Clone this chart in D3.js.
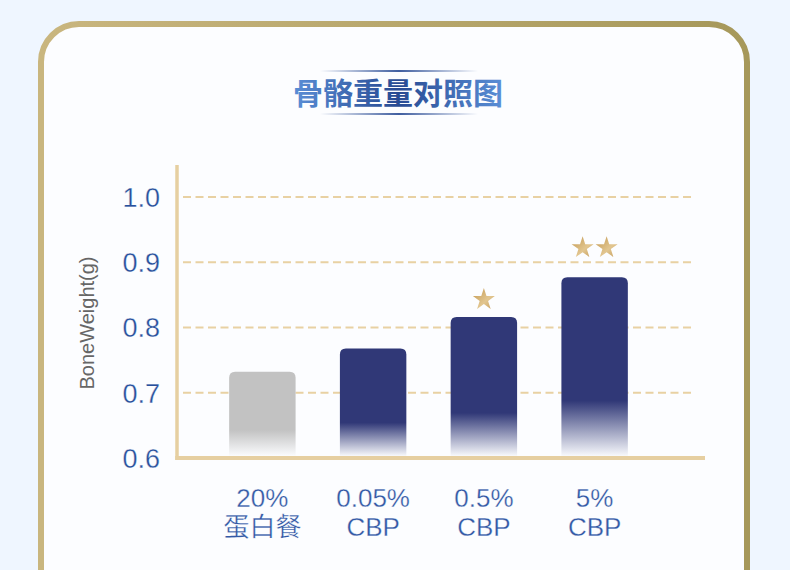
<!DOCTYPE html>
<html>
<head>
<meta charset="utf-8">
<script src="https://cdn.jsdelivr.net/npm/d3@7/dist/d3.min.js"></script>
<style>
  html, body { margin: 0; padding: 0; background: #eff6ff; }
  svg { display: block; }
</style>
</head>
<body>
<svg id="chart" width="790" height="570"></svg>
<script>
// ---- data ----
const title = "骨骼重量对照图";
const categoriesLine1 = ["20%", "0.05%", "0.5%", "5%"];
const categoriesLine2 = ["蛋白餐", "CBP", "CBP", "CBP"];
const values = [0.732, 0.768, 0.816, 0.877];
const starCounts = [0, 0, 1, 2];
const yTicks = [0.6, 0.7, 0.8, 0.9, 1.0];
const yTitle = "BoneWeight(g)";

// ---- layout ----
const svg = d3.select("#chart");
const W = 790, H = 570;
const plotLeft = 177, plotRight = 705;
const cardBg = "#fcfdff";

const x = d3.scaleBand()
  .domain(d3.range(values.length))
  .range([207, 650])
  .paddingInner(0.4)
  .paddingOuter(0.2);
const y = d3.scaleLinear().domain([0.6, 1.0]).range([458, 197]);

const defs = svg.append("defs");
const border = defs.append("linearGradient").attr("id", "border").attr("x1", "0").attr("x2", "1").attr("y1", "0").attr("y2", "0");
border.append("stop").attr("offset", "0").attr("stop-color", "#c9b67f");
border.append("stop").attr("offset", "1").attr("stop-color", "#a6985a");

const tg = defs.append("linearGradient").attr("id", "titleGrad").attr("x1", "0").attr("x2", "1").attr("y1", "0").attr("y2", "0");
tg.append("stop").attr("offset", "0").attr("stop-color", "#5a8ed6");
tg.append("stop").attr("offset", "0.5").attr("stop-color", "#274a93");
tg.append("stop").attr("offset", "1").attr("stop-color", "#5a8ed6");

const lg = defs.append("linearGradient").attr("id", "lineGrad").attr("x1", "0").attr("x2", "1").attr("y1", "0").attr("y2", "0");
lg.append("stop").attr("offset", "0").attr("stop-color", "#2a4c95").attr("stop-opacity", 0);
lg.append("stop").attr("offset", "0.5").attr("stop-color", "#2a4c95").attr("stop-opacity", 1);
lg.append("stop").attr("offset", "1").attr("stop-color", "#2a4c95").attr("stop-opacity", 0);

function barGrad(id, color) {
  const g = defs.append("linearGradient").attr("id", id).attr("x1", "0").attr("x2", "0").attr("y1", "0").attr("y2", "1");
  g.append("stop").attr("offset", "0").attr("stop-color", color);
  g.append("stop").attr("offset", "0.69").attr("stop-color", color);
  g.append("stop").attr("offset", "1").attr("stop-color", color).attr("stop-opacity", 0.02);
}
barGrad("barGray", "#c2c2c2");
barGrad("barNavy", "#303877");

const sg = defs.append("linearGradient").attr("id", "starGrad").attr("x1", "0").attr("x2", "1").attr("y1", "0").attr("y2", "1");
sg.append("stop").attr("offset", "0").attr("stop-color", "#c0954d");
sg.append("stop").attr("offset", "0.6").attr("stop-color", "#e2c690");
sg.append("stop").attr("offset", "1").attr("stop-color", "#c59d5b");

// ---- card ----
svg.append("rect").attr("width", W).attr("height", H).attr("fill", "#eff6ff");
svg.append("rect")
  .attr("x", 41).attr("y", 24).attr("width", 706).attr("height", 640)
  .attr("rx", 38).attr("ry", 38)
  .attr("fill", cardBg)
  .attr("stroke", "url(#border)").attr("stroke-width", 6);

// ---- title ----
svg.append("text")
  .attr("x", 398).attr("y", 103.5)
  .attr("text-anchor", "middle")
  .attr("font-family", "'Noto Sans CJK SC', sans-serif")
  .attr("font-weight", 700)
  .attr("font-size", 30)
  .attr("fill", "url(#titleGrad)")
  .text(title);
[71, 114].forEach(yy => {
  svg.append("rect").attr("x", 320).attr("y", yy - 0.9).attr("width", 158).attr("height", 1.8).attr("fill", "url(#lineGrad)");
});

// ---- gridlines ----
const grid = svg.append("g");
grid.selectAll("line").data(yTicks.filter(t => t > 0.6)).join("line")
  .attr("x1", 183).attr("x2", 695)
  .attr("y1", d => y(d)).attr("y2", d => y(d))
  .attr("stroke", "#e8d1a3").attr("stroke-width", 2)
  .attr("stroke-dasharray", "8,4.5");

// ---- bars ----
const r = 6;
function topRoundedRect(x0, y0, w, h, rr) {
  return `M${x0},${y0 + h}V${y0 + rr}Q${x0},${y0} ${x0 + rr},${y0}H${x0 + w - rr}Q${x0 + w},${y0} ${x0 + w},${y0 + rr}V${y0 + h}Z`;
}
const baseY = y(0.6) - 2;
svg.append("g").selectAll("path").data(values).join("path")
  .attr("d", (d, i) => topRoundedRect(x(i), y(d), x.bandwidth(), baseY - y(d), r))
  .attr("fill", (d, i) => i === 0 ? "url(#barGray)" : "url(#barNavy)");

// ---- stars ----
const star = d3.symbol().type(d3.symbolStar).size(150);
const starG = svg.append("g");
values.forEach((v, i) => {
  const n = starCounts[i];
  for (let k = 0; k < n; k++) {
    const cx = x(i) + x.bandwidth() / 2 + (k - (n - 1) / 2) * 24;
    const cy = y(v) - 19 - 12 * (n - 1);
    starG.append("path").attr("d", star).attr("transform", `translate(${cx},${cy + 1.5})`).attr("fill", "url(#starGrad)");
  }
});

// ---- axes lines ----
svg.append("line").attr("x1", plotLeft).attr("x2", plotLeft).attr("y1", 165).attr("y2", y(0.6) + 2)
  .attr("stroke", "#e6cfa1").attr("stroke-width", 3.5);
svg.append("line").attr("x1", plotLeft - 1.75).attr("x2", plotRight).attr("y1", y(0.6)).attr("y2", y(0.6))
  .attr("stroke", "#e6cfa1").attr("stroke-width", 4);

// slightly thinner-looking text
function thin(sel) {
  sel.attr("stroke", cardBg).attr("stroke-width", 0.3);
}

// ---- y axis ticks ----
const yAxis = d3.axisLeft(y).tickValues(yTicks).tickFormat(d3.format(".1f")).tickSize(0).tickPadding(0);
const yg = svg.append("g").attr("transform", "translate(160,0)").call(yAxis);
yg.select(".domain").remove();
yg.selectAll("text")
  .attr("font-family", "'Liberation Sans', Arial, sans-serif")
  .attr("font-size", 27)
  .attr("fill", "#28509c")
  .attr("dy", "0.35em")
  .call(thin);

svg.append("text")
  .attr("transform", "translate(94,323) rotate(-90)")
  .attr("text-anchor", "middle")
  .attr("font-family", "'Liberation Sans', Arial, sans-serif")
  .attr("font-size", 20)
  .attr("fill", "#666666")
  .text(yTitle);

// ---- x axis labels ----
const xAxis = d3.axisBottom(x).tickSize(0).tickPadding(0).tickFormat(i => categoriesLine1[i]);
const xg = svg.append("g").attr("transform", "translate(0,507)").call(xAxis);
xg.select(".domain").remove();
xg.selectAll("text")
  .attr("dy", 0)
  .attr("font-family", "'Liberation Sans', Arial, sans-serif")
  .attr("font-size", 26)
  .attr("fill", "#3258a5")
  .call(thin);
xg.selectAll(".tick").append("text")
  .attr("y", 29)
  .attr("text-anchor", "middle")
  .attr("font-family", "'Liberation Sans', 'Noto Sans CJK SC', sans-serif")
  .attr("font-size", 26)
  .attr("fill", "#3258a5")
  .text(i => categoriesLine2[i])
  .call(thin);
</script>
</body>
</html>
